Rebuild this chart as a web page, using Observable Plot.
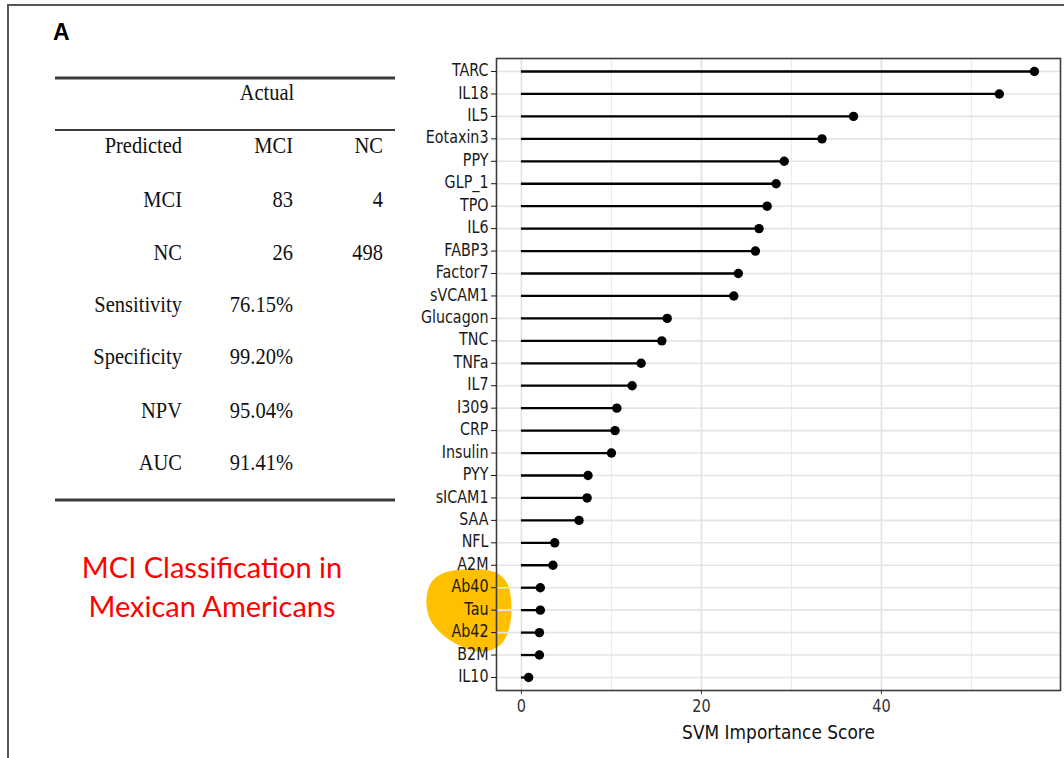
<!DOCTYPE html>
<html>
<head>
<meta charset="utf-8">
<script src="https://cdn.jsdelivr.net/npm/d3@7"></script>
<script src="https://cdn.jsdelivr.net/npm/@observablehq/plot@0.6"></script>
<style>
  html, body { margin: 0; padding: 0; background: #fff; }
  #fig { position: relative; width: 1064px; height: 758px; overflow: hidden; background: #fff; }
  #fig > svg { position: absolute; left: 0; top: 0; }
</style>
</head>
<body>
<div id="fig"></div>
<script>
// SVM feature importance for MCI vs NC, sorted from highest to lowest
const markers = ["TARC", "IL18", "IL5", "Eotaxin3", "PPY", "GLP_1", "TPO", "IL6", "FABP3", "Factor7",
  "sVCAM1", "Glucagon", "TNC", "TNFa", "IL7", "I309", "CRP", "Insulin", "PYY", "sICAM1",
  "SAA", "NFL", "A2M", "Ab40", "Tau", "Ab42", "B2M", "IL10"];
const scores = [57.0, 53.1, 36.9, 33.4, 29.2, 28.3, 27.3, 26.4, 26.0, 24.1,
  23.6, 16.2, 15.6, 13.3, 12.3, 10.6, 10.4, 10.0, 7.4, 7.3,
  6.4, 3.7, 3.5, 2.1, 2.1, 2.0, 2.0, 0.8];
const highlighted = ["Ab40", "Tau", "Ab42"];
const xTicks = [0, 20, 40];
const xMinorTicks = [10, 30, 50];
const xTitle = "SVM Importance Score";

// Confusion matrix and performance summary
const actualLabel = "Actual";
const headerCells = ["Predicted", "MCI", "NC"];
const predictedClasses = ["MCI", "NC"];
const actualMCI = [83, 26];
const actualNC = [4, 498];
const metricNames = ["Sensitivity", "Specificity", "NPV", "AUC"];
const metricValues = ["76.15%", "99.20%", "95.04%", "91.41%"];

const panelLabel = "A";
const noteLines = ["MCI Classification in", "Mexican Americans"];

const W = 1064, H = 758;
const data = markers.map((m, i) => ({marker: m, score: scores[i]}));

// Rounded marker-pen blob behind the amyloid/tau labels, placed from the y scale
function highlightBlob(index, scales, values, dims) {
  const ys = highlighted.map((d) => scales.y(d));
  const yA = ys[0];
  const step = (ys[ys.length - 1] - yA) / (highlighted.length - 1);
  const x0 = dims.marginLeft;
  // [horizontal offset from the frame edge in px, offset in rows from the first label]
  const outline = [
    [-26, -0.8],
    [-1, -0.844], [10, -0.578], [14, 0.178],
    [17, 0.978], [16, 1.867], [7, 2.444],
    [0, 2.844], [-14, 2.978], [-26, 2.8],
    [-41, 2.578], [-56, 2.133], [-64, 1.6],
    [-72, 1.022], [-71, 0.178], [-64, -0.267],
    [-56, -0.711], [-41, -0.8], [-26, -0.8]
  ].map(([dx, k]) => [x0 + dx, yA + k * step]);
  let d = `M${outline[0][0]},${outline[0][1]}`;
  for (let i = 1; i < outline.length; i += 3) {
    d += `C${outline[i]} ${outline[i + 1]} ${outline[i + 2]}`;
  }
  d += "Z";
  const g = d3.create("svg:g");
  g.append("path").attr("d", d).attr("fill", "#FFC000");
  return g.node();
}

const chart = Plot.plot({
  width: W,
  height: H,
  marginLeft: 496,
  marginRight: 4,
  marginTop: 58,
  marginBottom: 68,
  style: {fontFamily: "DejaVu Sans", background: "transparent"},
  x: {domain: [-2.77, 59.9]},
  y: {type: "point", domain: markers, padding: 0.58, round: false},
  marks: [
    highlightBlob,
    Plot.gridX(xMinorTicks, {stroke: "#ececec", strokeOpacity: 1, strokeWidth: 1.1}),
    Plot.gridX(xTicks, {stroke: "#e2e2e2", strokeOpacity: 1, strokeWidth: 1.6}),
    Plot.gridY(markers, {stroke: "#e4e4e4", strokeOpacity: 1, strokeWidth: 1.6}),
    Plot.ruleY(data, {y: "marker", x1: 0, x2: "score", stroke: "#000", strokeWidth: 2.3}),
    Plot.dot(data, {x: "score", y: "marker", r: 4.7, fill: "#000", stroke: null}),
    Plot.frame({stroke: "#3c3c3c", strokeWidth: 1.6}),
    Plot.axisY({tickSize: 5, tickPadding: 3, fontSize: 14.3, color: "#1a1a1a", label: null}),
    Plot.axisX({ticks: xTicks, tickSize: 4, tickPadding: 7, fontSize: 14.5, color: "#333", label: null}),
    Plot.text([xTitle], {frameAnchor: "bottom", dy: 43, lineAnchor: "middle", fontSize: 17, fill: "#111"})
  ]
});
document.getElementById("fig").appendChild(chart);

// The lettering in this figure is set a little taller than wide: stretch each
// label vertically about its own anchor point.
const toPx = (v, el) => {
  if (v == null) return 0;
  const n = parseFloat(v);
  if (!isFinite(n)) return 0;
  return String(v).trim().endsWith("em") ? n * parseFloat(getComputedStyle(el).fontSize) : n;
};
d3.select(chart).selectAll("text").each(function () {
  const t = d3.select(this);
  const x = toPx(t.attr("x"), this), y = toPx(t.attr("y"), this);
  const tr = t.attr("transform") || "";
  t.attr("transform", `${tr} translate(${x},${y}) scale(1,1.18) translate(${-x},${-y})`.trim());
});

// Overlay: figure border, panel letter, summary table and note
const ov = d3.select("#fig").append("svg")
  .attr("width", W).attr("height", H)
  .style("pointer-events", "none");

ov.append("line").attr("x1", 8).attr("x2", W).attr("y1", 5).attr("y2", 5)
  .attr("stroke", "#555").attr("stroke-width", 2);
ov.append("line").attr("x1", 8).attr("x2", 8).attr("y1", 4).attr("y2", H)
  .attr("stroke", "#555").attr("stroke-width", 2);

ov.append("text").attr("x", 53).attr("y", 40)
  .attr("font-family", "Liberation Sans, Arial, sans-serif")
  .attr("font-weight", "bold").attr("font-size", 23).attr("fill", "#000")
  .text(panelLabel);

// table rules
const rule = (y, w) => ov.append("line").attr("x1", 55).attr("x2", 395)
  .attr("y1", y).attr("y2", y).attr("stroke", "#3a3a3a").attr("stroke-width", w);
rule(78, 3);
rule(130, 2);
rule(500, 3.2);

const colX = [182, 293, 383];
const rowY = [146, 200, 253, 305, 357, 411, 463];
const cell = (x, y, s, anchor = "end") => ov.append("text")
  .attr("x", x).attr("y", y)
  .attr("text-anchor", anchor).attr("dominant-baseline", "central")
  .attr("font-family", "Liberation Serif, Times New Roman, serif")
  .attr("font-size", 20.5).attr("fill", "#111")
  .attr("transform", `translate(0,${y}) scale(1,1.1) translate(0,${-y})`)
  .text(s);

cell(267, 93, actualLabel, "middle");
headerCells.forEach((s, j) => cell(colX[j], rowY[0], s));
predictedClasses.forEach((s, i) => {
  cell(colX[0], rowY[1 + i], s);
  cell(colX[1], rowY[1 + i], actualMCI[i]);
  cell(colX[2], rowY[1 + i], actualNC[i]);
});
metricNames.forEach((s, i) => {
  cell(colX[0], rowY[3 + i], s);
  cell(colX[1], rowY[3 + i], metricValues[i]);
});

noteLines.forEach((s, i) => ov.append("text")
  .attr("x", 212).attr("y", 566 + i * 39)
  .attr("text-anchor", "middle").attr("dominant-baseline", "central")
  .attr("font-family", "Lato, sans-serif").attr("font-size", 29)
  .attr("fill", "#FF0000")
  .text(s));
</script>
</body>
</html>
